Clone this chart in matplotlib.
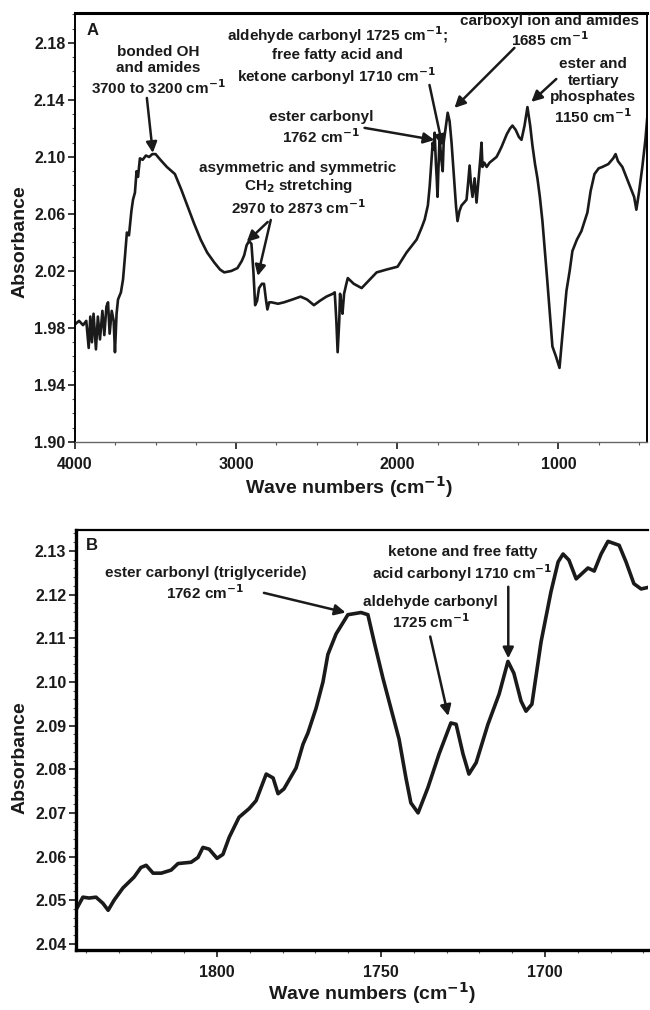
import matplotlib
matplotlib.use("Agg")
import matplotlib.pyplot as plt
from matplotlib.ticker import MultipleLocator, FixedLocator

plt.rcParams['font.family'] = ['Liberation Sans', 'DejaVu Sans']
plt.rcParams['font.weight'] = 'bold'

# ---------------- Panel A data: full spectrum ----------------
wn_a = [3995, 3975, 3950, 3930, 3915, 3905, 3895, 3885, 3870, 3858, 3845, 3830, 3818, 3805,
        3795, 3785, 3772, 3760, 3752, 3742, 3733, 3715, 3702, 3690, 3678, 3665, 3650, 3640,
        3628, 3618, 3609, 3597, 3580, 3560, 3540, 3520, 3500, 3470, 3430, 3380, 3340, 3300,
        3260, 3220, 3180, 3136, 3100, 3074, 3030, 2992, 2965, 2950, 2935, 2920, 2905, 2893,
        2882, 2870, 2858, 2840, 2827, 2815, 2806, 2795, 2780, 2740, 2703, 2650, 2600, 2560,
        2517, 2481, 2440, 2400, 2388, 2378, 2370, 2360, 2355, 2347, 2340, 2330, 2318, 2307,
        2270, 2221, 2170, 2128, 2066, 1998, 1942, 1880, 1850, 1830, 1810, 1799, 1790, 1780,
        1772, 1768, 1760, 1755, 1750, 1745, 1737, 1728, 1718, 1712, 1700, 1687, 1675, 1663,
        1644, 1635, 1626, 1614, 1601, 1585, 1570, 1560, 1551, 1542, 1533, 1520, 1508, 1495,
        1485, 1477, 1471, 1460, 1445, 1427, 1405, 1384, 1370, 1353, 1320, 1300, 1285, 1265,
        1245, 1229, 1210, 1192, 1175, 1161, 1145, 1130, 1115, 1099, 1068, 1037, 1015, 993,
        975, 950, 930, 913, 885, 857, 820, 800, 776, 750, 727, 690, 660, 645, 630, 603,
        575, 547, 530, 516, 500, 479, 460, 448]
abs_a = [1.983, 1.985, 1.982, 1.985, 1.966, 1.988, 1.970, 1.990, 1.965, 1.988, 1.972, 1.992, 1.975, 1.995,
         1.998, 1.976, 1.992, 1.985, 1.963, 1.990, 2.000, 2.005, 2.014, 2.030, 2.047, 2.045, 2.062, 2.070,
         2.075, 2.090, 2.086, 2.099, 2.098, 2.101, 2.100, 2.102, 2.102, 2.098, 2.093, 2.088, 2.077, 2.065,
         2.053, 2.042, 2.033, 2.026, 2.021, 2.019, 2.020, 2.022, 2.027, 2.031, 2.038, 2.041, 2.039, 2.020,
         1.996, 1.999, 2.008, 2.011, 2.011, 2.000, 1.993, 1.998, 1.998, 1.997, 1.998, 2.000, 2.002, 2.000,
         1.996, 1.999, 2.002, 2.004, 2.005, 1.985, 1.963, 1.985, 2.004, 1.997, 1.990, 2.004, 2.010, 2.015,
         2.011, 2.008, 2.014, 2.019, 2.021, 2.023, 2.033, 2.042, 2.050, 2.056, 2.066, 2.079, 2.094, 2.110,
         2.105, 2.117, 2.095, 2.085, 2.072, 2.090, 2.114, 2.100, 2.090, 2.110, 2.120, 2.131, 2.125, 2.110,
         2.079, 2.065, 2.055, 2.062, 2.066, 2.068, 2.070, 2.082, 2.094, 2.080, 2.072, 2.085, 2.068, 2.085,
         2.098, 2.110, 2.093, 2.096, 2.093, 2.096, 2.098, 2.100, 2.103, 2.107, 2.116, 2.120, 2.122, 2.119,
         2.114, 2.112, 2.122, 2.135, 2.122, 2.108, 2.095, 2.085, 2.072, 2.055, 2.012, 1.967, 1.960, 1.952,
         1.975, 2.006, 2.020, 2.034, 2.042, 2.048, 2.061, 2.076, 2.088, 2.092, 2.093, 2.095, 2.099, 2.102,
         2.097, 2.093, 2.085, 2.077, 2.072, 2.063, 2.075, 2.093, 2.112, 2.128]

# ---------------- Panel B data: carbonyl region ----------------
wn_b = [1842.7, 1840.9, 1839.0, 1836.9, 1834.8, 1833.2, 1831.4, 1828.7, 1825.3, 1823.2, 1821.6,
        1819.5, 1817.0, 1814.0, 1811.9, 1807.9, 1805.8, 1804.3, 1802.4, 1800.0, 1798.2, 1796.3,
        1793.3, 1790.2, 1788.1, 1785.0, 1782.9, 1781.4, 1779.6, 1775.9, 1773.8, 1772.3, 1769.8,
        1767.7, 1766.2, 1763.7, 1760.1, 1756.1, 1754.0, 1752.1, 1749.4, 1747.0, 1744.5, 1742.4,
        1740.9, 1738.7, 1735.7, 1732.3, 1728.7, 1727.1, 1725.0, 1723.2, 1721.0, 1717.4, 1714.0,
        1711.3, 1709.5, 1707.3, 1705.8, 1704.0, 1701.2, 1698.2, 1696.0, 1694.5, 1692.7, 1690.5,
        1686.9, 1685.0, 1682.9, 1680.8, 1677.4, 1675.3, 1672.9, 1670.7, 1667.7]
abs_b = [2.0482, 2.0507, 2.0505, 2.0507, 2.0493, 2.0477, 2.0500, 2.0528, 2.0553, 2.0575, 2.0580,
         2.0562, 2.0562, 2.0569, 2.0584, 2.0587, 2.0598, 2.0621, 2.0617, 2.0596, 2.0605, 2.0644,
         2.0690, 2.0710, 2.0728, 2.0789, 2.0780, 2.0744, 2.0755, 2.0803, 2.0857, 2.0883, 2.0940,
         2.1000, 2.1063, 2.1110, 2.1154, 2.1159, 2.1154, 2.1092, 2.1008, 2.0940, 2.0869, 2.0780,
         2.0723, 2.0700, 2.0758, 2.0835, 2.0906, 2.0903, 2.0835, 2.0789, 2.0815, 2.0903, 2.0972,
         2.1047, 2.1020, 2.0956, 2.0933, 2.0949, 2.1092, 2.1206, 2.1275, 2.1293, 2.1279, 2.1236,
         2.1261, 2.1254, 2.1293, 2.1322, 2.1313, 2.1275, 2.1225, 2.1213, 2.1218]

ticks_a_x = [4000, 3000, 2000, 1000]
ticks_a_y = [1.90, 1.94, 1.98, 2.02, 2.06, 2.10, 2.14, 2.18]
ticks_b_x = [1800, 1750, 1700]
ticks_b_y = [2.04, 2.05, 2.06, 2.07, 2.08, 2.09, 2.10, 2.11, 2.12, 2.13]

fig = plt.figure(figsize=(6.5, 10.1), dpi=100)
W, H = 650, 1010

def box(l, t, r, b):
    return [l / W, 1 - b / H, (r - l) / W, (b - t) / H]

axA = fig.add_axes(box(75, 13, 647, 442))
axB = fig.add_axes(box(76, 530, 648, 950))

BLK = '#1a1a1a'
TXT = dict(fontsize=11, fontweight='bold', color=BLK, ha='center', va='center', linespacing=1.2)

def style(ax, xt, yt, xminor, yminor, fmt):
    ax.set_xticks(xt)
    ax.set_yticks(yt)
    ax.set_yticklabels([fmt % v for v in yt])
    ax.xaxis.set_minor_locator(MultipleLocator(xminor))
    ax.yaxis.set_minor_locator(MultipleLocator(yminor))
    ax.tick_params(axis='both', which='major', direction='out', length=5, width=1.2,
                   labelsize=11.5, colors=BLK, pad=2)
    ax.tick_params(axis='both', which='minor', direction='out', length=2.5, width=0.8, colors='#555555')
    ax.tick_params(axis='x', which='major', pad=6)
    for lab in ax.get_xticklabels() + ax.get_yticklabels():
        lab.set_fontweight('bold')

# ---------------- Panel A ----------------
axA.plot(wn_a, abs_a, color=BLK, lw=1.9, solid_joinstyle='round')
axA.set_xlim(4000, 450)
axA.set_ylim(1.90, 2.201)
style(axA, ticks_a_x, ticks_a_y, 250, 0.01, '%.2f')
axA.spines['top'].set_linewidth(2.2)
axA.spines['left'].set_linewidth(1.4)
axA.spines['right'].set_linewidth(1.4)
axA.spines['bottom'].set_linewidth(1.0)
axA.spines['bottom'].set_color('#666666')

axA.text(0.031, 0.96, 'A', transform=axA.transAxes, fontsize=12, fontweight='bold',
         ha='center', va='center', color=BLK)

arrow = dict(arrowstyle='-|>', color=BLK, lw=1.8, mutation_scale=16, shrinkA=0, shrinkB=0)

axA.text(0.145, 0.865, 'bonded OH\nand amides\n3700 to 3200 cm$^{\\mathbf{-1}}$', transform=axA.transAxes, **TXT)
axA.annotate('', xy=(3517, 2.1028), xytext=(3554, 2.1414), arrowprops=arrow)

axA.text(0.39, 0.59, 'asymmetric and symmetric\nCH$_{\\mathbf{2}}$ stretching\n2970 to 2873 cm$^{\\mathbf{-1}}$',
         transform=axA.transAxes, **TXT)
axA.annotate('', xy=(2934, 2.0404), xytext=(2804, 2.0544), arrowprops=arrow)
axA.annotate('', xy=(2866, 2.0165), xytext=(2785, 2.0558), arrowprops=arrow)

axA.text(0.458, 0.90, 'aldehyde carbonyl 1725 cm$^{\\mathbf{-1}}$;\nfree fatty acid and\nketone carbonyl 1710 cm$^{\\mathbf{-1}}$',
         transform=axA.transAxes, **TXT)
axA.annotate('', xy=(1719, 2.1077), xytext=(1800, 2.1505), arrowprops=arrow)

axA.text(0.43, 0.732, 'ester carbonyl\n1762 cm$^{\\mathbf{-1}}$', transform=axA.transAxes, **TXT)
axA.annotate('', xy=(1769, 2.1119), xytext=(2203, 2.1204), arrowprops=arrow)

axA.text(0.83, 0.957, 'carboxyl ion and amides\n1685 cm$^{\\mathbf{-1}}$', transform=axA.transAxes, **TXT)
axA.annotate('', xy=(1645, 2.1344), xytext=(1273, 2.1765), arrowprops=arrow)

axA.text(0.906, 0.817, 'ester and\ntertiary\nphosphates\n1150 cm$^{\\mathbf{-1}}$', transform=axA.transAxes, **TXT)
axA.annotate('', xy=(1168, 2.1386), xytext=(1013, 2.1547), arrowprops=arrow)

# ---------------- Panel B ----------------
axB.plot(wn_b, abs_b, color=BLK, lw=2.6, solid_joinstyle='round')
axB.set_xlim(1843, 1668.6)
axB.set_ylim(2.0386, 2.1348)
style(axB, ticks_b_x, ticks_b_y, 10, 0.002, '%.2f')
axB.spines['top'].set_linewidth(1.6)
axB.spines['left'].set_linewidth(2.4)
axB.spines['bottom'].set_linewidth(2.4)
axB.spines['right'].set_visible(False)

axB.text(0.028, 0.964, 'B', transform=axB.transAxes, fontsize=12, fontweight='bold',
         ha='center', va='center', color=BLK)

axB.text(0.226, 0.871, 'ester carbonyl (triglyceride)\n1762 cm$^{\\mathbf{-1}}$', transform=axB.transAxes, **TXT)
axB.annotate('', xy=(1760.8, 2.1159), xytext=(1785.7, 2.1204), arrowprops=arrow)

axB.text(0.62, 0.802, 'aldehyde carbonyl\n1725 cm$^{\\mathbf{-1}}$', transform=axB.transAxes, **TXT)
axB.annotate('', xy=(1729.5, 2.0922), xytext=(1735.0, 2.1104), arrowprops=arrow)

axB.text(0.676, 0.918, 'ketone and free fatty\nacid carbonyl 1710 cm$^{\\mathbf{-1}}$', transform=axB.transAxes, **TXT)
axB.annotate('', xy=(1711.2, 2.1054), xytext=(1711.2, 2.1218), arrowprops=arrow)

# ---------------- Axis labels ----------------
LAB = dict(fontsize=14, fontweight='bold', color=BLK, ha='center', va='center')
fig.text(20 / W, 1 - 242 / H, 'Absorbance', rotation=90, **LAB)
fig.text(20 / W, 1 - 758 / H, 'Absorbance', rotation=90, **LAB)
fig.text(349 / W, 1 - 487 / H, 'Wave numbers (cm$^{\\mathbf{-1}}$)', **LAB)
fig.text(372 / W, 1 - 993 / H, 'Wave numbers (cm$^{\\mathbf{-1}}$)', **LAB)

fig.savefig('out.png', dpi=100)
